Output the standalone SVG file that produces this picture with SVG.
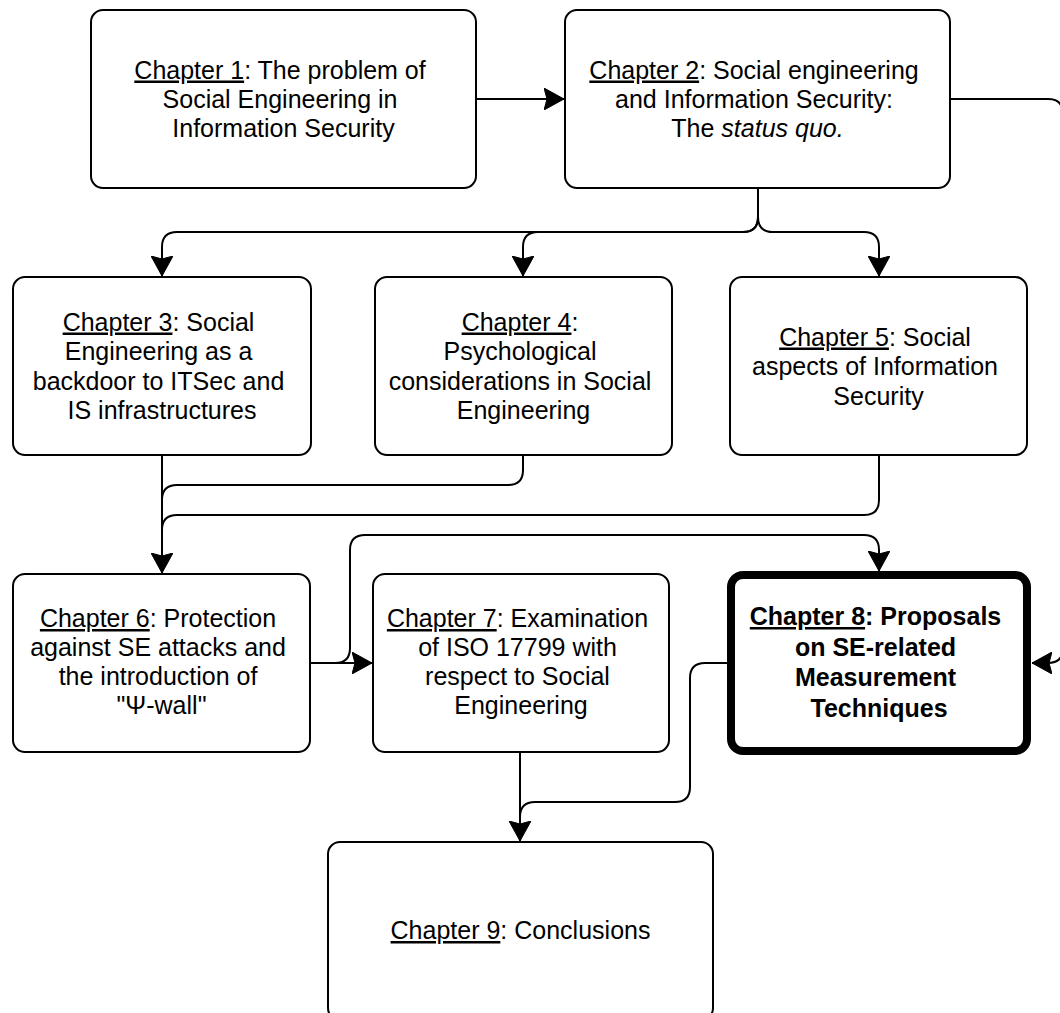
<svg xmlns="http://www.w3.org/2000/svg" width="1060" height="1013" viewBox="0 0 1060 1013">
  <style>
    .box { fill: #ffffff; stroke: #000000; stroke-width: 2; }
    .box.main { stroke-width: 8; }
    .lbl { font-family: "Liberation Sans", Arial, Helvetica, sans-serif; font-size: 25px; fill: #000000; text-anchor: middle; }
    .lbl.bold { font-weight: bold; }
    .u { text-decoration: underline; }
    .it { font-style: italic; }
    .edge { fill: none; stroke: #000000; stroke-width: 2; }
  </style>
  <defs>
    <marker id="arrow" markerUnits="userSpaceOnUse" viewBox="0 0 20 22" markerWidth="20" markerHeight="22" refX="20" refY="11" orient="auto">
      <path d="M0,0 L20,11 L0,22 L3,11 Z" fill="#000000" stroke="#000000" stroke-width="1" stroke-linejoin="miter"/>
    </marker>
  </defs>

  <!-- connectors -->
  <g id="connectors">
    <!-- Ch1 -> Ch2 -->
    <path class="edge" d="M476,99 H564" marker-end="url(#arrow)"/>
    <!-- Ch2 -> Ch8 (around the right side) -->
    <path class="edge" d="M950,99 H1048 Q1063,99 1063,114 V648 Q1063,663 1048,663 H1032" marker-end="url(#arrow)"/>
    <!-- Ch2 -> Ch3 / Ch4 / Ch5 -->
    <path class="edge" d="M758,188 V217 Q758,232 743,232 H177 Q162,232 162,247 V276" marker-end="url(#arrow)"/>
    <path class="edge" d="M758,188 V217 Q758,232 743,232 H538 Q523,232 523,247 V276" marker-end="url(#arrow)"/>
    <path class="edge" d="M758,188 V217 Q758,232 773,232 H864 Q879,232 879,247 V276" marker-end="url(#arrow)"/>
    <!-- Ch3 / Ch4 / Ch5 -> Ch6 -->
    <path class="edge" d="M162,455 V573" marker-end="url(#arrow)"/>
    <path class="edge" d="M523,455 V470 Q523,485 508,485 H177 Q162,485 162,500 V560"/>
    <path class="edge" d="M879,455 V500 Q879,515 864,515 H177 Q162,515 162,530 V560"/>
    <!-- Ch6 -> Ch7 -->
    <path class="edge" d="M310,663 H372" marker-end="url(#arrow)"/>
    <!-- Ch6 -> Ch8 -->
    <path class="edge" d="M310,663 H335 Q350,663 350,648 V550 Q350,535 365,535 H864 Q879,535 879,550 V571" marker-end="url(#arrow)"/>
    <!-- Ch7 -> Ch9 -->
    <path class="edge" d="M520,752 V841" marker-end="url(#arrow)"/>
    <!-- Ch8 -> Ch9 -->
    <path class="edge" d="M727,663 H705 Q690,663 690,678 V787 Q690,802 675,802 H535 Q520,802 520,817 V830"/>
  </g>

  <g id="ch1">
    <rect class="box" x="91" y="10" width="385" height="178" rx="12"/>
    <text class="lbl">
      <tspan x="283.5" y="78.5"><tspan class="u">Chapter 1</tspan>: The problem of</tspan>
      <tspan x="283.5" y="107.5">Social Engineering in</tspan>
      <tspan x="283.5" y="137">Information Security</tspan>
    </text>
  </g>

  <g id="ch2">
    <rect class="box" x="565" y="10" width="385" height="178" rx="12"/>
    <text class="lbl">
      <tspan x="757.5" y="78.5"><tspan class="u">Chapter 2</tspan>: Social engineering</tspan>
      <tspan x="757.5" y="107.5">and Information Security:</tspan>
      <tspan x="757.5" y="137">The <tspan class="it">status quo.</tspan></tspan>
    </text>
  </g>

  <g id="ch3">
    <rect class="box" x="13" y="277" width="298" height="178" rx="12"/>
    <text class="lbl">
      <tspan x="162" y="330.5"><tspan class="u">Chapter 3</tspan>: Social</tspan>
      <tspan x="162" y="360">Engineering as a</tspan>
      <tspan x="162" y="389.5">backdoor to ITSec and</tspan>
      <tspan x="162" y="419">IS infrastructures</tspan>
    </text>
  </g>

  <g id="ch4">
    <rect class="box" x="375" y="277" width="297" height="178" rx="12"/>
    <text class="lbl">
      <tspan x="523.5" y="330.5"><tspan class="u">Chapter 4</tspan>:</tspan>
      <tspan x="523.5" y="360">Psychological</tspan>
      <tspan x="523.5" y="389.5">considerations in Social</tspan>
      <tspan x="523.5" y="419">Engineering</tspan>
    </text>
  </g>

  <g id="ch5">
    <rect class="box" x="730" y="277" width="297" height="178" rx="12"/>
    <text class="lbl">
      <tspan x="878.5" y="345.5"><tspan class="u">Chapter 5</tspan>: Social</tspan>
      <tspan x="878.5" y="375">aspects of Information</tspan>
      <tspan x="878.5" y="404.5">Security</tspan>
    </text>
  </g>

  <g id="ch6">
    <rect class="box" x="13" y="574" width="297" height="178" rx="12"/>
    <text class="lbl">
      <tspan x="161.5" y="627"><tspan class="u">Chapter 6</tspan>: Protection</tspan>
      <tspan x="161.5" y="656">against SE attacks and</tspan>
      <tspan x="161.5" y="685">the introduction of</tspan>
      <tspan x="161.5" y="714">"Ψ-wall"</tspan>
    </text>
  </g>

  <g id="ch7">
    <rect class="box" x="373" y="574" width="296" height="178" rx="12"/>
    <text class="lbl">
      <tspan x="521" y="627"><tspan class="u">Chapter 7</tspan>: Examination</tspan>
      <tspan x="521" y="656">of ISO 17799 with</tspan>
      <tspan x="521" y="685">respect to Social</tspan>
      <tspan x="521" y="714">Engineering</tspan>
    </text>
  </g>

  <g id="ch8">
    <rect class="box main" x="731" y="575" width="296" height="176" rx="12"/>
    <text class="lbl bold">
      <tspan x="879" y="625"><tspan class="u">Chapter 8</tspan>: Proposals</tspan>
      <tspan x="879" y="655.5">on SE-related</tspan>
      <tspan x="879" y="686">Measurement</tspan>
      <tspan x="879" y="716.5">Techniques</tspan>
    </text>
  </g>

  <g id="ch9">
    <rect class="box" x="328" y="842" width="385" height="178" rx="12"/>
    <text class="lbl">
      <tspan x="520.5" y="939"><tspan class="u">Chapter 9</tspan>: Conclusions</tspan>
    </text>
  </g>
</svg>
